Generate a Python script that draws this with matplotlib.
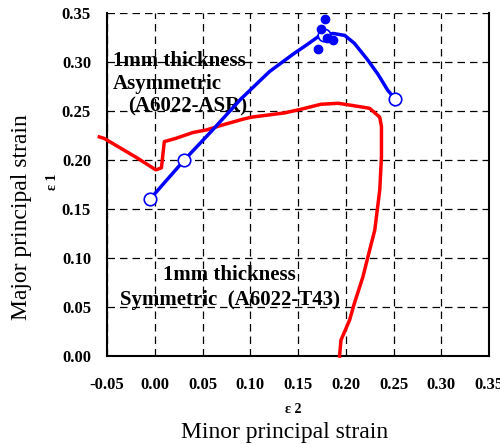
import matplotlib
matplotlib.use('Agg')
import matplotlib.pyplot as plt

plt.rcParams['font.family'] = ['Liberation Serif', 'DejaVu Serif']

# Asymmetric (A6022-ASR) forming limit curve
asr_e2 = [-0.005, 0.031, 0.060, 0.090, 0.120, 0.145, 0.160, 0.173, 0.187,
          0.199, 0.209, 0.223, 0.234, 0.244, 0.252]
asr_e1 = [0.160, 0.200, 0.230, 0.262, 0.290, 0.308, 0.318, 0.327, 0.329,
          0.327, 0.319, 0.302, 0.287, 0.271, 0.262]
# open circle markers on the ASR curve
asr_open_e2 = [-0.005, 0.031, 0.177, 0.252]
asr_open_e1 = [0.160, 0.200, 0.327, 0.262]
# filled points near the peak
asr_pts_e2 = [0.178, 0.174, 0.180, 0.187, 0.171]
asr_pts_e1 = [0.344, 0.334, 0.324, 0.322, 0.313]

# Symmetric (A6022-T43) forming limit curve
t43_e2 = [-0.058, -0.053, -0.020, 0.001, 0.003, 0.007, 0.010, 0.022, 0.040,
          0.054, 0.071, 0.092, 0.101, 0.136, 0.153, 0.174, 0.192, 0.206,
          0.225, 0.2356, 0.2374, 0.2374, 0.2356, 0.2304, 0.225, 0.218,
          0.209, 0.204, 0.195, 0.1935]
t43_e1 = [0.2235, 0.222, 0.203, 0.190, 0.1905, 0.192, 0.2187, 0.222, 0.228,
          0.2306, 0.2357, 0.2415, 0.2436, 0.248, 0.2517, 0.2568, 0.2578,
          0.2557, 0.2527, 0.2436, 0.234, 0.2034, 0.1694, 0.1286, 0.108,
          0.0809, 0.0537, 0.0367, 0.0163, 0.0]

ticks_x = [-0.05, 0.00, 0.05, 0.10, 0.15, 0.20, 0.25, 0.30, 0.35]
ticks_y = [0.00, 0.05, 0.10, 0.15, 0.20, 0.25, 0.30, 0.35]

fig = plt.figure(figsize=(5.0, 4.44), dpi=100)
ax = fig.add_axes([0.214, 0.198, 0.764, 0.773])

ax.plot(t43_e2, t43_e1, '-', color='#ff0000', linewidth=2.5, clip_on=False, zorder=3)
ax.plot(asr_e2, asr_e1, '-', color='#0000ff', linewidth=2.5, zorder=4)
ax.plot(asr_open_e2, asr_open_e1, 'o', mfc='white', mec='#0000ff', mew=1.2,
        markersize=9, zorder=5)
ax.plot(asr_pts_e2, asr_pts_e1, 'o', color='#0000ff', markersize=6, zorder=6)

ax.set_xlim(-0.05, 0.35)
ax.set_ylim(0.0, 0.35)
ax.set_xticks(ticks_x)
ax.set_yticks(ticks_y)
ax.set_xticklabels([f'{t:.2f}' for t in ticks_x], fontweight='bold', fontsize=12)
ax.set_yticklabels([f'{t:.2f}' for t in ticks_y], fontweight='bold', fontsize=12)
ax.tick_params(axis='y', length=0, pad=11.5)
ax.tick_params(axis='x', length=0, pad=15)

ax.grid(True, color='black', linestyle=(0, (6, 4)), linewidth=0.9)
ax.spines['top'].set_visible(False)
for s in ['left', 'bottom', 'right']:
    ax.spines[s].set_linewidth(1.5)

# axis titles placed as in the original
fig.text(0.570, 0.027, 'Minor principal strain', fontsize=17, ha='center', va='center')
fig.text(0.044, 0.510, 'Major principal strain', fontsize=17, ha='center', va='center',
         rotation=90)
fig.text(0.586, 0.077, '\u03b5 2', fontsize=10, fontweight='bold', ha='center', va='center')
fig.text(0.106, 0.59, '\u03b5 1', fontsize=10, fontweight='bold', ha='center', va='center',
         rotation=90)

# annotations
kw = dict(fontsize=15, fontweight='bold', ha='left', va='baseline', zorder=2)
ax.text(-0.0437, 0.2962, '1mm thickness', **kw)
ax.text(-0.0437, 0.2724, 'Asymmetric', **kw)
ax.text(-0.028, 0.2493, '(A6022-ASR)', **kw)
ax.text(0.009, 0.0776, '1mm thickness', **kw)
ax.text(-0.0364, 0.0520, 'Symmetric  (A6022-T43)', **kw)

fig.savefig('out.png', dpi=100)
